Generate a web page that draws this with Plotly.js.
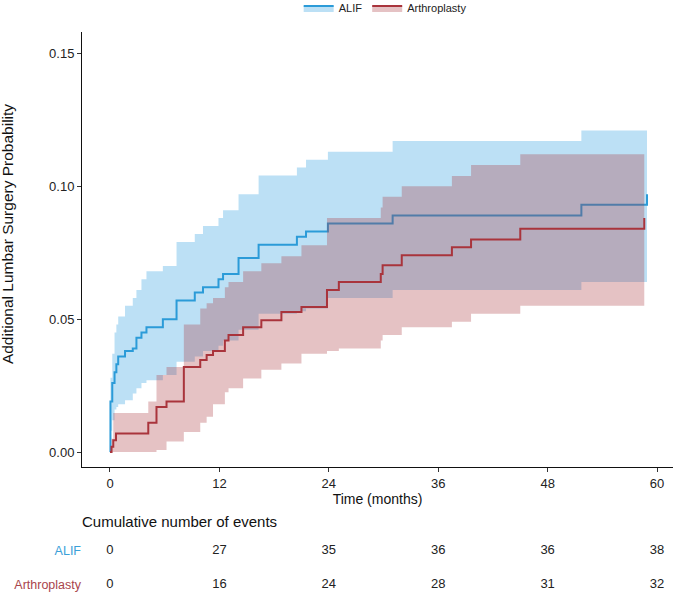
<!DOCTYPE html>
<html>
<head>
<meta charset="utf-8">
<script src="https://cdn.plot.ly/plotly-3.0.1.min.js"></script>
<style>
  body { margin: 0; background: #fff; }
  #myGraph { width: 685px; height: 593px; }
</style>
</head>
<body>
<div id="myGraph"></div>
<script>
// ALIF: cumulative incidence step curve + 95% band
let alifTime  = [0, 0.05, 0.25, 0.5, 0.7, 0.9, 1.65, 2.5, 2.9, 3.45, 4.0, 5.8, 7.3, 9.3, 10.2, 11.9, 12.4, 14.1, 16.3, 20.5, 21.5, 23.9, 31, 51.7, 58.9];
let alifEst   = [0, 0.019, 0.026, 0.030, 0.033, 0.036, 0.038, 0.039, 0.043, 0.045, 0.047, 0.050, 0.057, 0.060, 0.062, 0.065, 0.067, 0.073, 0.078, 0.081, 0.083, 0.086, 0.089, 0.093, 0.097];
let alifLower = [0, 0.008, 0.012, 0.016, 0.017, 0.018, 0.0195, 0.022, 0.024, 0.026, 0.027, 0.029, 0.034, 0.036, 0.038, 0.040, 0.042, 0.046, 0.052, 0.053, 0.054, 0.058, 0.061, 0.064, 0.064];
let alifUpper = [0, 0.028, 0.037, 0.045, 0.048, 0.051, 0.055, 0.058, 0.061, 0.065, 0.068, 0.070, 0.079, 0.082, 0.085, 0.088, 0.091, 0.097, 0.104, 0.107, 0.110, 0.113, 0.117, 0.121, 0.121];

// Arthroplasty
let arthTime  = [0, 0.17, 0.36, 0.66, 4.2, 5.1, 6.2, 8.1, 9.9, 10.6, 11.3, 12.6, 13.0, 14.6, 16.6, 18.8, 21.0, 23.8, 25.1, 29.7, 29.9, 32.0, 37.5, 39.6, 45.0, 58.6];
let arthEst   = [0, 0.002, 0.0045, 0.007, 0.011, 0.017, 0.019, 0.032, 0.0346, 0.0365, 0.038, 0.042, 0.044, 0.047, 0.0496, 0.0527, 0.0546, 0.061, 0.064, 0.067, 0.0703, 0.074, 0.077, 0.080, 0.084, 0.088];
let arthLower = [0, 0, 0, 0, 0, 0.0008, 0.004, 0.0076, 0.011, 0.0133, 0.018, 0.0225, 0.024, 0.0277, 0.031, 0.0333, 0.037, 0.038, 0.039, 0.042, 0.044, 0.047, 0.049, 0.052, 0.055, 0.055];
let arthUpper = [0, 0.005, 0.0147, 0.0147, 0.019, 0.029, 0.032, 0.048, 0.054, 0.056, 0.058, 0.062, 0.064, 0.068, 0.071, 0.0737, 0.0778, 0.088, 0.088, 0.092, 0.096, 0.100, 0.1038, 0.108, 0.112, 0.112];

// risk table
let tableTimes  = [0, 12, 24, 36, 48, 60];
let alifEvents  = [0, 27, 35, 36, 36, 38];
let arthEvents  = [0, 16, 24, 28, 31, 32];
let groupNames  = ['ALIF', 'Arthroplasty'];

let blue = '#2b9bd8';
let red  = '#a9343c';
let blueFill = 'rgba(46,159,223,0.32)';
let redFill  = 'rgba(169,52,60,0.30)';

function band(x, y, fill, color) {
    let t = {
        type: 'scatter', mode: 'lines', x: x, y: y,
        line: { shape: 'hv', width: 0, color: 'rgba(0,0,0,0)' },
        showlegend: false, hoverinfo: 'skip'
    };
    if (fill) { t.fill = 'tonexty'; t.fillcolor = color; }
    return t;
}

let data = [];
data.push(band(alifTime, alifLower, false));
data.push(band(alifTime, alifUpper, true, blueFill));
data.push({
    type: 'scatter', mode: 'lines', name: 'ALIF', showlegend: false,
    x: alifTime, y: alifEst,
    line: { shape: 'hv', width: 2, color: blue }
});
data.push(band(arthTime, arthLower, false));
data.push(band(arthTime, arthUpper, true, redFill));
data.push({
    type: 'scatter', mode: 'lines', name: 'Arthroplasty', showlegend: false,
    x: arthTime, y: arthEst,
    line: { shape: 'hv', width: 2, color: red }
});

// legend-only entries: filled box + line like the ggplot key
data.push({
    type: 'scatter', mode: 'lines', name: 'ALIF', x: [null], y: [null],
    fill: 'toself', fillcolor: blueFill, line: { color: blue, width: 2 }
});
data.push({
    type: 'scatter', mode: 'lines', name: 'Arthroplasty', x: [null], y: [null],
    fill: 'toself', fillcolor: redFill, line: { color: red, width: 2 }
});

// table rows as text on a second y axis
data.push({
    type: 'scatter', mode: 'text', xaxis: 'x', yaxis: 'y2',
    x: tableTimes, y: tableTimes.map(() => groupNames[0]),
    text: alifEvents.map(String),
    textfont: { size: 13, color: '#222' },
    showlegend: false, hoverinfo: 'skip'
});
data.push({
    type: 'scatter', mode: 'text', xaxis: 'x', yaxis: 'y2',
    x: tableTimes, y: tableTimes.map(() => groupNames[1]),
    text: arthEvents.map(String),
    textfont: { size: 13, color: '#222' },
    showlegend: false, hoverinfo: 'skip'
});

let layout = {
    width: 685, height: 593,
    margin: { l: 82, r: 12, t: 32, b: 0, autoexpand: false },
    paper_bgcolor: '#fff', plot_bgcolor: '#fff',
    font: { family: 'Liberation Sans, Arial, sans-serif', color: '#222' },
    showlegend: true,
    legend: {
        orientation: 'h', traceorder: 'normal',
        x: 0.513, xanchor: 'center', y: 1.043, yanchor: 'middle',
        font: { size: 11, color: '#222' }, itemwidth: 30
    },
    xaxis: {
        anchor: 'y', range: [-3.07, 61.75],
        tickvals: tableTimes, ticks: 'outside', ticklen: 4, tickcolor: '#333',
        showline: true, linecolor: '#111', linewidth: 1,
        showgrid: false, zeroline: false,
        tickfont: { size: 13, color: '#222' },
        title: { text: 'Time (months)', font: { size: 14, color: '#111' }, standoff: 1 }
    },
    yaxis: {
        domain: [0.2246, 1], range: [-0.0056, 0.158],
        tickvals: [0, 0.05, 0.10, 0.15], tickformat: '.2f',
        ticks: 'outside', ticklen: 4, tickcolor: '#333',
        showline: true, linecolor: '#111', linewidth: 1,
        showgrid: false, zeroline: false,
        tickfont: { size: 13, color: '#222' }
    },
    yaxis2: {
        domain: [0, 0.2], anchor: 'x', type: 'category',
        categoryarray: ['Arthroplasty', 'ALIF'], range: [-0.235, 3.065],
        tickvals: groupNames,
        ticktext: ['<span style="color:#3aa0d8">ALIF</span>', '<span style="color:#a9444c">Arthroplasty</span>'],
        ticks: '', showline: false, showgrid: false, zeroline: false,
        tickfont: { size: 12.5 }
    },
    annotations: [{
        text: 'Additional Lumbar Surgery Probability', xref: 'paper', yref: 'paper',
        x: -0.125, xanchor: 'center', y: 0.64, yanchor: 'middle', textangle: -90,
        showarrow: false, font: { size: 15.5, color: '#111' }
    }, {
        text: 'Cumulative number of events', xref: 'paper', yref: 'paper',
        x: -0.003, xanchor: 'left', y: 0.1283, yanchor: 'middle',
        showarrow: false, font: { size: 15, color: '#111' }
    }]
};

Plotly.newPlot('myGraph', data, layout, { displayModeBar: false });
</script>
</body>
</html>
